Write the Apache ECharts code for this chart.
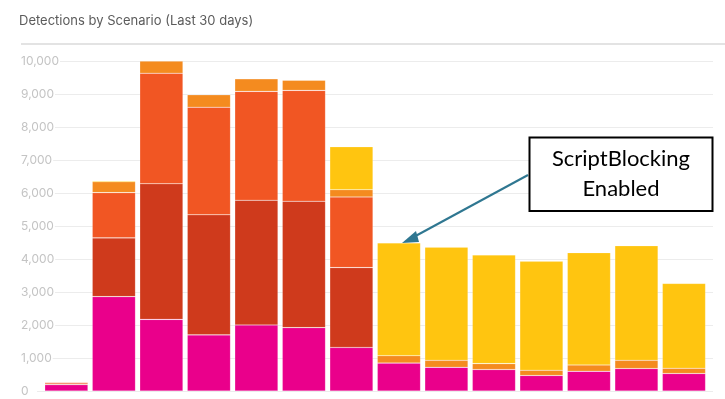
<!DOCTYPE html>
<html>
<head>
<meta charset="utf-8">
<script src="https://cdn.jsdelivr.net/npm/echarts@6/dist/echarts.min.js"></script>
<style>
  html, body { margin: 0; padding: 0; background: #fff; }
  #chart { width: 725px; height: 399px; }
</style>
</head>
<body>
<div id="chart"></div>
<script>
// data (bottom segment first)
var days = ["D1", "D2", "D3", "D4", "D5", "D6", "D7", "D8", "D9", "D10", "D11", "D12", "D13", "D14"];
var pink      = [190, 2860, 2170, 1700, 2000, 1920, 1320, 850, 720, 650, 470, 600, 680, 530];
var darkRed   = [20, 1780, 4110, 3640, 3780, 3830, 2420, 0, 0, 0, 0, 0, 0, 0];
var orangeRed = [50, 1370, 3350, 3260, 3300, 3360, 2140, 0, 0, 0, 0, 0, 0, 0];
var orange    = [25, 330, 370, 380, 380, 310, 220, 220, 210, 180, 160, 190, 250, 160];
var yellow    = [0, 30, 0, 0, 0, 0, 1300, 3420, 3430, 3290, 3300, 3400, 3470, 2570];
var yMax = 10000;
var yStep = 1000;

var colors = ["#ea008b", "#cf3a1c", "#f15623", "#f48b1f", "#ffc510"];
var layers = [pink, darkRed, orangeRed, orange, yellow];

var chart = echarts.init(document.getElementById("chart"));

// stacked bars
var series = layers.map(function (vals, i) {
  return {
    name: "s" + i,
    type: "bar",
    stack: "total",
    xAxisIndex: 1,
    yAxisIndex: 1,
    barCategoryGap: "9%",
    data: vals,
    itemStyle: {
      color: colors[i],
      borderColor: "rgba(255,255,255,0.25)",
      borderWidth: 0.6
    }
  };
});

var option = {
  animation: false,
  title: {
    text: "Detections by Scenario (Last 30 days)",
    left: 14,
    top: 10,
    textStyle: { fontFamily: "Inter", fontSize: 13, fontWeight: "normal", color: "#5b5b5b" }
  },
  grid: [
    { left: 37, right: 12, top: 61, bottom: 8 },
    { left: 42.6, right: 17.3, top: 61, bottom: 8 }
  ],
  xAxis: [
    { type: "value", gridIndex: 0, show: false, min: 0, max: 1 },
    { type: "category", gridIndex: 1, data: days, show: false }
  ],
  yAxis: [
    {
      type: "value", gridIndex: 0, min: 0, max: yMax, interval: yStep,
      axisLine: { show: false },
      axisTick: { show: false },
      splitLine: { lineStyle: { color: "#ececec", width: 1 } },
      axisLabel: {
        align: "left",
        margin: 16,
        fontFamily: "Inter",
        fontSize: 12,
        color: "#c4c4c4",
        backgroundColor: "#fff",
        padding: [0, 1, 0, 0],
        formatter: function (v) { return v.toLocaleString("en-US"); }
      }
    },
    { type: "value", gridIndex: 1, min: 0, max: yMax, show: false }
  ],
  series: series,
  graphic: [
    // line under the title
    { type: "line", shape: { x1: 21, y1: 44, x2: 725, y2: 44 }, style: { stroke: "#e3e3e3", lineWidth: 2 } },
    // callout arrow
    { type: "line", z: 100, shape: { x1: 528, y1: 175, x2: 410, y2: 239 }, style: { stroke: "#2f7791", lineWidth: 2 } },
    { type: "polygon", z: 100, shape: { points: [[402, 243], [416, 231], [419, 242]] }, style: { fill: "#2f7791" } },
    // callout box
    {
      type: "rect", z: 100,
      shape: { x: 529.5, y: 137.5, width: 183, height: 73.5 },
      style: { fill: "#fff", stroke: "#000", lineWidth: 2 }
    },
    {
      type: "text", z: 101, x: 621, y: 159,
      style: { text: "ScriptBlocking", fontFamily: "Lato", fontSize: 22, fill: "#000", align: "center", verticalAlign: "middle" }
    },
    {
      type: "text", z: 101, x: 621, y: 189,
      style: { text: "Enabled", fontFamily: "Lato", fontSize: 22, fill: "#000", align: "center", verticalAlign: "middle" }
    }
  ]
};

chart.setOption(option);
</script>
</body>
</html>
